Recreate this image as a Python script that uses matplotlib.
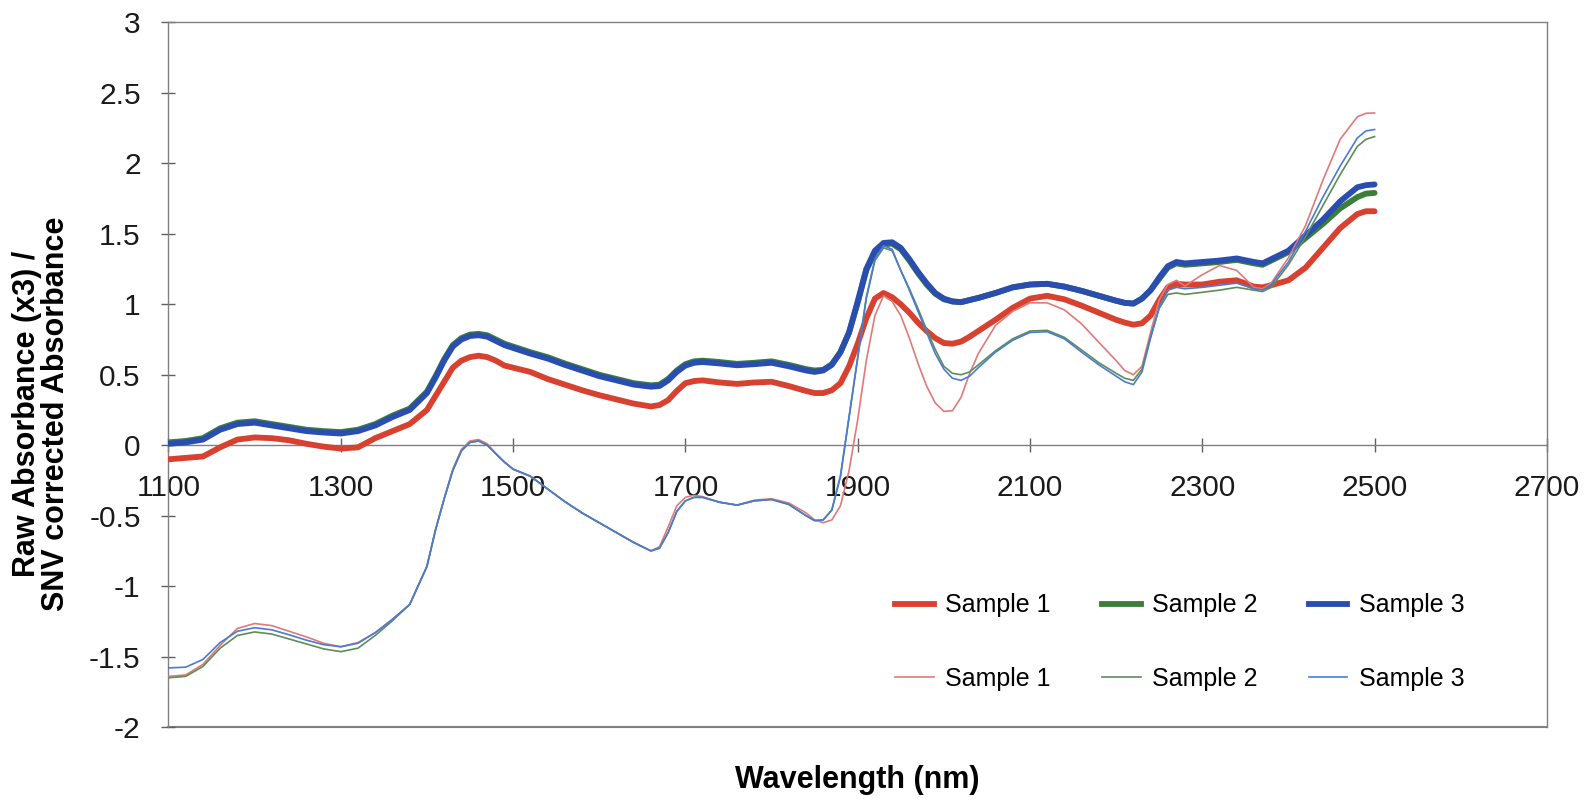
import matplotlib
matplotlib.use("Agg")
import matplotlib.pyplot as plt
from matplotlib.lines import Line2D

plt.rcParams['font.family'] = ['Liberation Sans', 'DejaVu Sans']

# wavelength grid (nm)
wl = [1100, 1120, 1140, 1160, 1180, 1200, 1220, 1240, 1260, 1280,
      1300, 1320, 1340, 1360, 1380, 1400, 1410, 1420, 1430, 1440,
      1450, 1460, 1470, 1480, 1490, 1500, 1520, 1540, 1560, 1580,
      1600, 1620, 1640, 1660, 1670, 1680, 1690, 1700, 1710, 1720,
      1740, 1760, 1780, 1800, 1820, 1840, 1850, 1860, 1870, 1880,
      1890, 1900, 1910, 1920, 1930, 1940, 1950, 1960, 1970, 1980,
      1990, 2000, 2010, 2020, 2030, 2040, 2060, 2080, 2100, 2120,
      2140, 2160, 2180, 2200, 2210, 2220, 2230, 2240, 2250, 2260,
      2270, 2280, 2300, 2320, 2340, 2360, 2370, 2380, 2400, 2420,
      2440, 2460, 2480, 2490, 2500]

# raw absorbance x3
raw_s1 = [-0.10, -0.09, -0.08, -0.015, 0.04, 0.055, 0.05, 0.035, 0.01, -0.01,
          -0.024, -0.015, 0.05, 0.10, 0.15, 0.25, 0.35, 0.45, 0.55, 0.60,
          0.625, 0.635, 0.625, 0.60, 0.565, 0.55, 0.52, 0.47, 0.43, 0.39,
          0.355, 0.325, 0.295, 0.275, 0.285, 0.32, 0.385, 0.44, 0.455, 0.46,
          0.445, 0.435, 0.445, 0.45, 0.42, 0.385, 0.37, 0.37, 0.39, 0.44,
          0.56, 0.72, 0.90, 1.04, 1.08, 1.05, 1.00, 0.94, 0.87, 0.81,
          0.76, 0.725, 0.72, 0.735, 0.77, 0.81, 0.89, 0.975, 1.04, 1.06,
          1.035, 0.99, 0.94, 0.89, 0.87, 0.855, 0.865, 0.92, 1.03, 1.12,
          1.145, 1.14, 1.14, 1.16, 1.17, 1.125, 1.12, 1.135, 1.17, 1.26,
          1.40, 1.54, 1.64, 1.66, 1.66]
raw_s2 = [0.02, 0.03, 0.05, 0.12, 0.16, 0.17, 0.15, 0.13, 0.11, 0.10,
          0.093, 0.11, 0.15, 0.21, 0.26, 0.38, 0.49, 0.61, 0.71, 0.76,
          0.785, 0.79, 0.78, 0.75, 0.72, 0.70, 0.66, 0.625, 0.58, 0.54,
          0.50, 0.47, 0.44, 0.425, 0.43, 0.47, 0.53, 0.575, 0.595, 0.60,
          0.59, 0.577, 0.585, 0.595, 0.57, 0.54, 0.53, 0.535, 0.575, 0.66,
          0.80, 1.01, 1.24, 1.37, 1.425, 1.43, 1.39, 1.31, 1.22, 1.14,
          1.075, 1.035, 1.02, 1.015, 1.03, 1.045, 1.08, 1.12, 1.14, 1.145,
          1.125, 1.095, 1.06, 1.025, 1.01, 1.005, 1.04, 1.10, 1.18, 1.26,
          1.29, 1.28, 1.29, 1.30, 1.315, 1.29, 1.28, 1.31, 1.37, 1.47,
          1.57, 1.68, 1.76, 1.785, 1.79]
raw_s3 = [0.01, 0.02, 0.04, 0.11, 0.15, 0.16, 0.14, 0.12, 0.10, 0.09,
          0.083, 0.10, 0.14, 0.20, 0.25, 0.37, 0.48, 0.60, 0.70, 0.75,
          0.775, 0.78, 0.77, 0.74, 0.71, 0.69, 0.65, 0.615, 0.57, 0.53,
          0.49, 0.46, 0.43, 0.415, 0.42, 0.46, 0.52, 0.565, 0.585, 0.59,
          0.58, 0.567, 0.575, 0.585, 0.56, 0.53, 0.52, 0.53, 0.57, 0.66,
          0.80, 1.02, 1.25, 1.38, 1.435, 1.44, 1.40, 1.32, 1.23, 1.15,
          1.08, 1.04, 1.02, 1.015, 1.03, 1.045, 1.08, 1.12, 1.14, 1.145,
          1.125, 1.095, 1.06, 1.025, 1.01, 1.005, 1.04, 1.10, 1.19, 1.27,
          1.30, 1.29, 1.30, 1.31, 1.325, 1.30, 1.29, 1.32, 1.38, 1.49,
          1.60, 1.73, 1.83, 1.845, 1.85]

# SNV corrected absorbance
snv_s1 = [-1.64, -1.63, -1.555, -1.42, -1.30, -1.265, -1.28, -1.32, -1.36, -1.405,
          -1.43, -1.40, -1.33, -1.235, -1.13, -0.86, -0.60, -0.38, -0.17, -0.03,
          0.03, 0.04, 0.01, -0.06, -0.12, -0.17, -0.22, -0.31, -0.40, -0.48,
          -0.55, -0.62, -0.69, -0.75, -0.72, -0.58, -0.43, -0.37, -0.355, -0.365,
          -0.405, -0.425, -0.39, -0.38, -0.41, -0.48, -0.53, -0.55, -0.53, -0.43,
          -0.18, 0.18, 0.60, 0.92, 1.06, 1.02, 0.92, 0.76, 0.58, 0.42,
          0.30, 0.24, 0.245, 0.34, 0.51, 0.65, 0.85, 0.95, 1.01, 1.01,
          0.96, 0.86, 0.73, 0.60, 0.53, 0.50, 0.56, 0.80, 1.03, 1.14,
          1.17, 1.13, 1.21, 1.275, 1.24, 1.12, 1.11, 1.15, 1.33, 1.56,
          1.88, 2.17, 2.33, 2.355, 2.357]
snv_s2 = [-1.65, -1.64, -1.57, -1.44, -1.35, -1.325, -1.34, -1.375, -1.41, -1.445,
          -1.465, -1.44, -1.35, -1.245, -1.13, -0.86, -0.60, -0.38, -0.18, -0.04,
          0.02, 0.03, 0.00, -0.06, -0.12, -0.17, -0.22, -0.31, -0.40, -0.48,
          -0.55, -0.62, -0.69, -0.75, -0.73, -0.62, -0.47, -0.395, -0.37, -0.37,
          -0.405, -0.425, -0.395, -0.385, -0.42, -0.50, -0.535, -0.53, -0.46, -0.22,
          0.20, 0.62, 1.04, 1.31, 1.40, 1.38, 1.24, 1.11, 0.97, 0.82,
          0.68, 0.56, 0.51, 0.50, 0.52, 0.57, 0.67, 0.755, 0.81, 0.815,
          0.765, 0.675, 0.585, 0.51, 0.475, 0.46, 0.54, 0.77, 0.97, 1.07,
          1.08, 1.07, 1.085, 1.10, 1.12, 1.10, 1.09, 1.12, 1.28, 1.48,
          1.70, 1.92, 2.12, 2.17, 2.19]
snv_s3 = [-1.58, -1.575, -1.52, -1.40, -1.32, -1.295, -1.31, -1.345, -1.383, -1.415,
          -1.43, -1.405, -1.33, -1.235, -1.13, -0.86, -0.60, -0.38, -0.18, -0.04,
          0.02, 0.03, 0.00, -0.06, -0.12, -0.17, -0.22, -0.31, -0.40, -0.48,
          -0.55, -0.62, -0.69, -0.75, -0.73, -0.62, -0.47, -0.395, -0.37, -0.37,
          -0.405, -0.425, -0.395, -0.385, -0.42, -0.50, -0.535, -0.53, -0.46, -0.22,
          0.20, 0.62, 1.05, 1.32, 1.415, 1.39, 1.24, 1.10, 0.95, 0.80,
          0.65, 0.54, 0.475, 0.46, 0.49, 0.55, 0.66, 0.745, 0.80, 0.805,
          0.755, 0.66, 0.57, 0.49, 0.45, 0.43, 0.52, 0.76, 0.98, 1.10,
          1.12, 1.11, 1.12, 1.135, 1.15, 1.11, 1.10, 1.14, 1.30, 1.52,
          1.76, 1.98, 2.18, 2.23, 2.24]

labels = ["Sample 1", "Sample 2", "Sample 3"]
thick_colors = ["#d8412f", "#3d7d3a", "#2a4db0"]
thin_colors = ["#e07a78", "#5e8c5a", "#4a7bd4"]

fig = plt.figure(figsize=(15.88, 7.99), dpi=100)
ax = fig.add_axes([0.1061, 0.090, 0.868, 0.882])

for ys, c in zip([raw_s1, raw_s2, raw_s3], thick_colors):
    ax.plot(wl, ys, color=c, lw=4.2, solid_capstyle="round", zorder=3)
for ys, c in zip([snv_s1, snv_s2, snv_s3], thin_colors):
    ax.plot(wl, ys, color=c, lw=1.2, zorder=4)

ax.set_xlim(1100, 2700)
ax.set_ylim(-2, 3)
ax.set_xticks(range(1100, 2701, 200))
ax.set_yticks([-2, -1.5, -1, -0.5, 0, 0.5, 1, 1.5, 2, 2.5, 3])
ax.set_yticklabels(["-2", "-1.5", "-1", "-0.5", "0", "0.5", "1", "1.5", "2", "2.5", "3"])

# plot-area frame, x axis crossing at zero
for side in ["top", "right", "left"]:
    ax.spines[side].set_color("#808080")
    ax.spines[side].set_linewidth(1.0)
ax.spines["bottom"].set_position(("data", 0))
ax.spines["bottom"].set_color("#808080")
ax.spines["bottom"].set_linewidth(1.0)
ax.plot([0, 1], [0, 0], transform=ax.transAxes, color="#808080", lw=1.5,
        clip_on=False, zorder=1)

ax.tick_params(axis="both", direction="inout", length=10, width=1.0,
               color="#606060", labelsize=21.5, labelcolor="#1a1a1a")
ax.tick_params(axis="x", pad=16)
ax.tick_params(axis="y", pad=15)

ax.set_xlabel("Wavelength (nm)", fontsize=22, fontweight="bold", labelpad=0)
ax.xaxis.set_label_coords(0.5, -0.054)
ax.set_ylabel("Raw Absorbance (x3) /\nSNV corrected Absorbance", fontsize=22,
              fontweight="bold", linespacing=0.95)
ax.yaxis.set_label_coords(-0.071, 0.445)

handles = []
for i in range(3):
    handles.append(Line2D([], [], color=thick_colors[i], lw=4.2))
    handles.append(Line2D([], [], color=thin_colors[i], lw=1.2))
leg_labels = []
for i in range(3):
    leg_labels += [labels[i], labels[i]]
ax.legend(handles, leg_labels, ncol=3, frameon=False, fontsize=18,
          loc="upper left", bbox_to_anchor=(0.52, 0.204),
          handlelength=1.55, handletextpad=0.45, columnspacing=2.05,
          labelspacing=1.98, borderaxespad=0)

fig.savefig("out.png", dpi=100, facecolor="white")
